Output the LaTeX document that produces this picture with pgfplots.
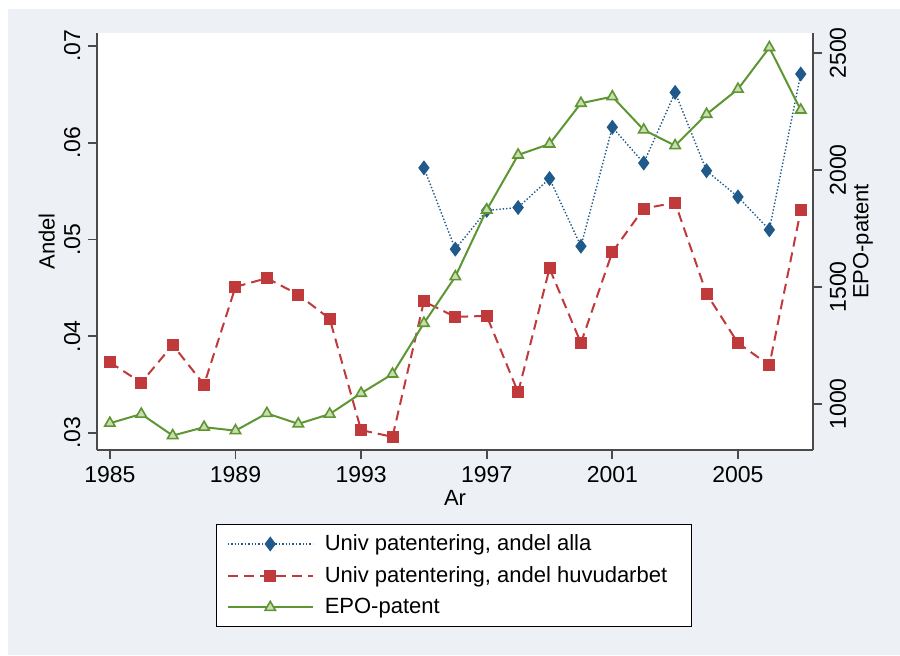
\documentclass[border=0pt]{standalone}
\usepackage{fontspec}
\setmainfont{Liberation Sans}
\usepackage{pgfplots}
\pgfplotsset{compat=1.18}

\definecolor{bgc}{HTML}{EDF1F5}
\definecolor{cblue}{HTML}{1F5A8A}
\definecolor{cred}{HTML}{C0393B}
\definecolor{cgreen}{HTML}{5E9633}
\definecolor{cgreenl}{HTML}{C9DDB0}
\definecolor{axc}{HTML}{4A4A4A}

\pgfplotsset{
  blueline/.style={cblue, densely dotted, line width=0.7pt, mark=diamond*, mark size=3.2pt, mark options={solid, fill=cblue, draw=cblue}},
  redline/.style={cred, dash pattern=on 5pt off 3pt, line width=1pt, mark=square*, mark size=2.5pt, mark options={solid, fill=cred, draw=cred}},
  greenline/.style={cgreen, solid, line width=1pt, mark=triangle*, mark size=3pt, mark options={solid, fill=cgreenl, draw=cgreen, line width=0.8pt}},
}

\begin{document}
\fontsize{11}{13}\selectfont
\begin{tikzpicture}
\useasboundingbox (0,0) rectangle (450pt,327.5pt);
\fill[white] (0,0) rectangle (450pt,327.5pt);
\fill[bgc] (4pt,0) rectangle (450pt,323pt);

\begin{axis}[
  at={(48.5pt,102.5pt)}, anchor=south west,
  scale only axis, width=358pt, height=208.5pt,
  xmin=1984.59, xmax=2007.39,
  ymin=0.02824, ymax=0.07134,
  scaled y ticks=false, scaled x ticks=false,
  axis x line*=bottom, axis y line*=left,
  axis line style={axc, line width=0.9pt, -},
  axis background/.style={fill=white},
  xtick={1985,1989,1993,1997,2001,2005},
  xticklabels={1985,1989,1993,1997,2001,2005},
  ytick={0.03,0.04,0.05,0.06,0.07},
  yticklabels={.03,.04,.05,.06,.07},
  tick align=outside, major tick length=4.5pt,
  tick style={axc, line width=0.9pt},
  yticklabel style={rotate=90, anchor=south},
  ticklabel style={font=\fontsize{11.5}{13}\selectfont},
  xlabel={Ar}, ylabel={Andel},
  label style={font=\fontsize{11}{13}\selectfont},
  xlabel style={yshift=4pt},
  ylabel style={yshift=-3pt},
]
\addplot[blueline] coordinates {(1995,.0574)(1996,.0490)(1997,.0530)(1998,.0533)(1999,.0563)(2000,.0493)(2001,.0616)(2002,.0579)(2003,.0652)(2004,.0571)(2005,.0544)(2006,.0510)(2007,.0671)};
\addplot[redline] coordinates {(1985,.0373)(1986,.0352)(1987,.0391)(1988,.0350)(1989,.0451)(1990,.0460)(1991,.0443)(1992,.0418)(1993,.0303)(1994,.0296)(1995,.0436)(1996,.0420)(1997,.0421)(1998,.0342)(1999,.0470)(2000,.0393)(2001,.0487)(2002,.0532)(2003,.0538)(2004,.0444)(2005,.0393)(2006,.0370)(2007,.0530)};
\end{axis}

\begin{axis}[
  at={(48.5pt,102.5pt)}, anchor=south west,
  scale only axis, width=358pt, height=208.5pt,
  xmin=1984.59, xmax=2007.39,
  ymin=803.4, ymax=2585,
  scaled y ticks=false,
  hide x axis,
  axis y line*=right,
  axis line style={axc, line width=0.9pt, -},
  ytick={1000,1500,2000,2500},
  yticklabels={1000,1500,2000,2500},
  tick align=outside, major tick length=4.5pt,
  tick style={axc, line width=0.9pt},
  yticklabel style={rotate=90, anchor=north},
  ticklabel style={font=\fontsize{11.5}{13}\selectfont},
  ylabel={EPO-patent},
  label style={font=\fontsize{11}{13}\selectfont},
  ylabel style={yshift=4pt},
  legend style={at={(0.4986,-0.3010)}, anchor=center, draw=black, line width=0.6pt, fill=white,
    font=\fontsize{11}{13}\selectfont, cells={anchor=west}, row sep=2.3pt, inner xsep=5pt, inner ysep=3pt,
    /tikz/every odd column/.append style={column sep=3.5pt}},
  legend image code/.code={\draw[mark repeat=2,mark phase=2,#1] plot coordinates {(0pt,0pt)(21.25pt,0pt)(42.5pt,0pt)};},
]
\addlegendimage{blueline}
\addlegendentry{Univ patentering, andel alla}
\addlegendimage{redline}
\addlegendentry{Univ patentering, andel huvudarbet\hspace*{5pt}}
\addplot[greenline] coordinates {(1985,918)(1986,957)(1987,865)(1988,901)(1989,886)(1990,960)(1991,915)(1992,957)(1993,1046)(1994,1128)(1995,1345)(1996,1544)(1997,1829)(1998,2064)(1999,2111)(2000,2285)(2001,2313)(2002,2171)(2003,2104)(2004,2238)(2005,2345)(2006,2523)(2007,2256)};
\addlegendentry{EPO-patent}
\end{axis}
\end{tikzpicture}
\end{document}
